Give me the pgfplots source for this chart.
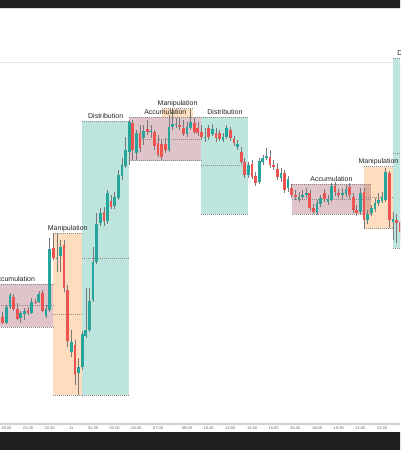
\documentclass[border=0pt]{standalone}
\usepackage{fontspec}
\setmainfont{Liberation Sans}
\usepackage{pgfplots}
\usepackage{pgfplotstable}
\pgfplotsset{compat=1.18}

\definecolor{up}{RGB}{38,166,154}
\definecolor{dn}{RGB}{239,83,80}
\definecolor{wick}{RGB}{120,120,120}
\definecolor{accbase}{RGB}{150,60,75}
\definecolor{manfill}{RGB}{253,221,189}
\definecolor{disfill}{RGB}{190,228,222}
\definecolor{darkbar}{RGB}{32,32,32}
\definecolor{bord}{RGB}{140,140,140}
\definecolor{lab}{RGB}{35,35,35}

% bullish candles: index, body top, body bottom, wick top, wick bottom (screen y, down = lower price)
\pgfplotstableread{
i bt bb wt wb
1 307 323 305 324
2 295 307 293 309
5 313 318 311 323
6 311 314 308 320
8 302 313 298 314
10 294 302 291 303
12 309 316 305 318
13 249 310 238 312
15 257.5 258.5 233 272
16 247 256 240 272
19 342 352 330 357
21 367 373 358 395
22 334 367 331 370
23 330 336 288 338
24 301 330 288 332
25 262 300 247 302
26 224 262 213 264
27 213 223 208 226
29 193 221 190 224
31 197 206 192 209
32 175 198 170 200
33 165 176 158 180
34 150 166 137 168
35 122 152 120 165
37 133 153 130 160
39 131 138 125 145
41 130.5 131.5 125 138
46 127 150 115 152
47 124 127 108 130
48 123.5 124.5 118 128
51 127 134 122 137
52 122 128 108 130
56 136.5 138 128 142
58 129 134 124 136
61 137 140 133 142
62 128 137 125 139
65 144 147 140 150
68 165 175 162 178
71 161 182 158 184
72 158 162 155 165
73 156 158 148 160
77 173 178 168 182
79 179 188 176 192
82 197 198 192 202
83 195 197 190 200
84 193 195 188 198
87 203 212.7 200 215
88 198 204 195 207
90 199 202 195 205
91 186 200 183 202
94 193 195 188 200
95 189 194 185 197
99 193 212 188 215
101 214 220 210 224
102 208 213 205 216
103 203 209 198 212
104 200 203 193 206
105 197 201 192 203
106 172 200 168 202
108 219 222 212 240
}\upT

% bearish candles
\pgfplotstableread{
i bt bb wt wb
-1 300 320 297 322
0 317 323 312 324
3 297 309 294 311
4 309 319 303 320
7 310 313 307 315
9 301.5 302.5 299 304
11 293 311 290 312
14 248 258 233 260
17 245 288 240 292
18 290 341 285 347
20 345 375 340 385
28 212 221 207 226
30 201 207 195 209
36 123 150 120 160
38 133 148 125 152
40 129 132 120 135
42 132 146 130 150
43 143 155 135 157
44 144 157 140 160
45 144 150 138 153
49 125 127 118 130
50 128 134 120 136
53 123 132 118 134
54 128 133 122 136
55 132 137 125 140
57 128 137 125 140
59 133 138 128 142
60 133 139 130 141
63 130 138 127 141
64 139 143 136 146
66 152 162 147 164
67 162 175 158 178
69 164 177 160 179
70 176 183 172 186
74 157 165 150 168
75 165 167 160 170
76 169 177 163 180
78 173 190 170 193
80 188 195 184 198
81 195 197 190 200
85 193 208 190 211
86 208 212 204 214
89 193 199 189 202
92 186 192 182 196
93 193 195 189 198
96 187 195 183 199
97 197 210 193 213
98 210 213 205 216
100 192 220 188 228
107 173 220 171 228
109 220 223 214 243
110 222 232 218 240
}\dnT

\tikzset{
  lbl/.style={font=\fontsize{7}{8}\selectfont, text=lab, anchor=base, inner sep=0pt},
  dotl/.style={bord, line width=0.5pt, dash pattern=on 1pt off 1pt},
}

\begin{document}
\begin{tikzpicture}
\useasboundingbox (0,0) rectangle (400pt,450pt);
\clip (0,0) rectangle (400pt,450pt);
\begin{axis}[
  at={(0,0)}, anchor=south west,
  width=400pt, height=450pt, scale only axis,
  xmin=-0.747, xmax=109.96, ymin=0, ymax=450, y dir=reverse,
  axis line style={draw=none}, major tick style={draw=none},
  ytick=\empty,
  xtick={1,7,13,19,25,31,37,43,51,57,63,69,75,81,87,93,99,105},
  xticklabels={19:30,21:00,22:30,11,01:30,03:00,04:30,07:00,09:00,10:30,12:00,13:30,15:00,16:30,18:00,19:30,21:00,22:30},
  xticklabel style={anchor=center, yshift=22pt, font=\fontsize{4}{4.5}\selectfont, text=black!60},
  clip=true,
]
% chrome
\fill[darkbar] (axis cs:-5,0) rectangle (axis cs:115,7.6);
\draw[black!15, line width=0.7pt] (axis cs:-5,8.1) -- (axis cs:115,8.1);
\draw[black!10, line width=0.6pt] (axis cs:-5,62) -- (axis cs:115,62);
\fill[black!18] (axis cs:-5,423.2) rectangle (axis cs:115,425);
\fill[darkbar] (axis cs:-5,432) rectangle (axis cs:115,455);

% Manipulation boxes
\addplot[fill=manfill, draw=none] coordinates {(14,233) (22,233) (22,395) (14,395)} --cycle;
\addplot[fill=manfill, draw=none] coordinates {(44,108.5) (52.8,108.5) (52.8,117) (44,117)} --cycle;
\addplot[fill=manfill, draw=none] coordinates {(100,166.5) (108,166.5) (108,228.5) (100,228.5)} --cycle;
% Distribution boxes
\addplot[fill=disfill, draw=none] coordinates {(22,121) (35,121) (35,395) (22,395)} --cycle;
\addplot[fill=disfill, draw=none] coordinates {(55,117) (68,117) (68,214) (55,214)} --cycle;
\addplot[fill=disfill, draw=none] coordinates {(108,58) (121,58) (121,248) (108,248)} --cycle;
% Accumulation boxes
\addplot[fill=accbase, fill opacity=0.3, draw=none] coordinates {(-7.7,284) (14,284) (14,327) (-7.7,327)} --cycle;
\addplot[fill=accbase, fill opacity=0.3, draw=none] coordinates {(35,117) (55,117) (55,160.5) (35,160.5)} --cycle;
\addplot[fill=accbase, fill opacity=0.3, draw=none] coordinates {(80,184) (102,184) (102,214) (80,214)} --cycle;

% box borders and mid lines
\addplot[dotl] coordinates {(-7.7,284) (14,284)};
\addplot[dotl] coordinates {(-7.7,327) (14,327)};
\addplot[dotl] coordinates {(-7.7,305.5) (14,305.5)};
\addplot[dotl] coordinates {(14,233) (22,233)};
\addplot[dotl] coordinates {(14,395) (22,395)};
\addplot[dotl] coordinates {(14,314) (22,314)};
\addplot[dotl] coordinates {(22,121) (35,121)};
\addplot[dotl] coordinates {(22,395) (35,395)};
\addplot[dotl] coordinates {(22,258) (35,258)};
\addplot[dotl] coordinates {(35,117) (55,117)};
\addplot[dotl] coordinates {(35,160.5) (55,160.5)};
\addplot[dotl] coordinates {(35,139) (55,139)};
\addplot[dotl] coordinates {(44,108.5) (52.8,108.5)};
\addplot[dotl] coordinates {(55,117) (68,117)};
\addplot[dotl] coordinates {(55,214) (68,214)};
\addplot[dotl] coordinates {(55,165.5) (68,165.5)};
\addplot[dotl] coordinates {(80,184) (102,184)};
\addplot[dotl] coordinates {(80,214) (102,214)};
\addplot[dotl] coordinates {(80,199) (102,199)};
\addplot[dotl] coordinates {(100,166.5) (108,166.5)};
\addplot[dotl] coordinates {(100,228.5) (108,228.5)};
\addplot[dotl] coordinates {(100,197.5) (108,197.5)};
\addplot[dotl] coordinates {(108,58) (121,58)};
\addplot[dotl] coordinates {(108,248) (121,248)};
\addplot[dotl] coordinates {(108,153) (121,153)};

% wicks
\addplot[draw=none, mark=none, forget plot, error bars/.cd, y dir=both, y explicit, error mark=none,
  error bar style={line width=0.6pt, wick}]
  table[x=i, y expr={(\thisrow{wt}+\thisrow{wb})/2}, y error expr={(\thisrow{wb}-\thisrow{wt})/2}] {\upT};
\addplot[draw=none, mark=none, forget plot, error bars/.cd, y dir=both, y explicit, error mark=none,
  error bar style={line width=0.6pt, wick}]
  table[x=i, y expr={(\thisrow{wt}+\thisrow{wb})/2}, y error expr={(\thisrow{wb}-\thisrow{wt})/2}] {\dnT};
% bodies
\addplot[draw=none, mark=none, forget plot, error bars/.cd, y dir=both, y explicit, error mark=none,
  error bar style={line width=2.7pt, up}]
  table[x=i, y expr={(\thisrow{bt}+\thisrow{bb})/2}, y error expr={(\thisrow{bb}-\thisrow{bt})/2}] {\upT};
\addplot[draw=none, mark=none, forget plot, error bars/.cd, y dir=both, y explicit, error mark=none,
  error bar style={line width=2.7pt, dn}]
  table[x=i, y expr={(\thisrow{bt}+\thisrow{bb})/2}, y error expr={(\thisrow{bb}-\thisrow{bt})/2}] {\dnT};

% labels
\node[lbl] at (axis cs:3.1,281) {Accumulation};
\node[lbl] at (axis cs:18,230) {Manipulation};
\node[lbl] at (axis cs:28.5,118) {Distribution};
\node[lbl] at (axis cs:45,114) {Accumulation};
\node[lbl] at (axis cs:48.4,105.5) {Manipulation};
\node[lbl] at (axis cs:61.5,114) {Distribution};
\node[lbl] at (axis cs:91,181) {Accumulation};
\node[lbl] at (axis cs:104,163.5) {Manipulation};
\node[lbl] at (axis cs:114.1,55) {Distribution};
\end{axis}
\end{tikzpicture}
\end{document}
